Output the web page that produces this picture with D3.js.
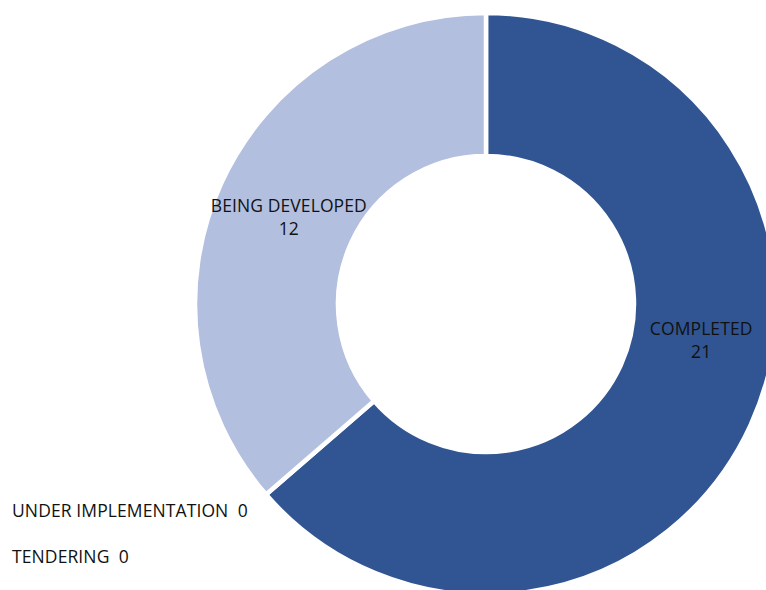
<!DOCTYPE html>
<html>
<head>
<meta charset="utf-8">
<script src="https://cdn.jsdelivr.net/npm/d3@7"></script>
<style>
  html, body { margin: 0; padding: 0; background: #fff; }
  svg { display: block; }
  text { font-family: "Open Sans", "Noto Sans", sans-serif; font-size: 17.5px; fill: #111; letter-spacing: 0.1px; }
</style>
</head>
<body>
<svg id="chart" width="766" height="590"></svg>
<script>
// Project status counts
const categories = ["COMPLETED", "BEING DEVELOPED", "UNDER IMPLEMENTATION", "TENDERING"];
const values = [21, 12, 0, 0];
const colors = ["#305592", "#B3BFDF", "#6F8AC4", "#D9DFF0"];

const W = 766, H = 590;
const cx = 486, cy = 304;
const outerR = 291, innerR = 148;

const svg = d3.select("#chart");
const g = svg.append("g").attr("transform", `translate(${cx},${cy})`);

const data = categories.map((c, i) => ({ name: c, value: values[i], color: colors[i] }));

const pie = d3.pie().value(d => d.value).sort(null);
const arc = d3.arc().innerRadius(innerR).outerRadius(outerR);
const arcs = pie(data);

g.selectAll("path.slice")
  .data(arcs.filter(a => a.data.value > 0))
  .join("path")
  .attr("class", "slice")
  .attr("d", arc)
  .attr("fill", d => d.data.color)
  .attr("stroke", "#fff")
  .attr("stroke-width", 4.5)
  .attr("stroke-linejoin", "miter");

// Labels for non-empty slices, nudged from the slice centroid
const labelArc = d3.arc().innerRadius(219).outerRadius(219);
const nudge = { "COMPLETED": [16, -60], "BEING DEVELOPED": [2, -1] };

arcs.filter(a => a.data.value > 0).forEach(a => {
  const [x, y] = labelArc.centroid(a);
  const [dx, dy] = nudge[a.data.name] || [0, 0];
  const t = g.append("text")
    .attr("text-anchor", "middle")
    .attr("x", x + dx)
    .attr("y", y + dy);
  t.append("tspan").attr("x", x + dx).attr("dy", 0).text(a.data.name);
  t.append("tspan").attr("x", x + dx).attr("dy", 23).text(a.data.value);
});

// Zero-value categories listed at the lower left
const zeros = arcs.filter(a => a.data.value === 0);
const zy = d3.scalePoint().domain(zeros.map(a => a.data.name)).range([517, 563]);
svg.selectAll("text.zero")
  .data(zeros)
  .join("text")
  .attr("class", "zero")
  .attr("x", 12)
  .attr("y", d => zy(d.data.name))
  .attr("xml:space", "preserve")
  .style("white-space", "pre")
  .text(d => `${d.data.name}  ${d.data.value}`);
</script>
</body>
</html>
